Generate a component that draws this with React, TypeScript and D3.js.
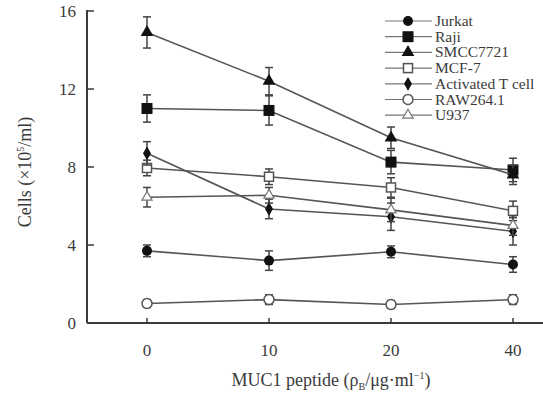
import React, { useEffect, useRef } from 'react';
import * as d3 from 'd3';

const doses = ['0', '10', '20', '40'];
const yTicks = [0, 4, 8, 12, 16];

const names = ['Jurkat', 'Raji', 'SMCC7721', 'MCF-7', 'Activated T cell', 'RAW264.1', 'U937'];
const markers = ['circle', 'square', 'triangle', 'openSquare', 'smallDot', 'openCircle', 'openTriangle'];

const jurkat = [3.7, 3.2, 3.65, 3.0];
const raji = [11.0, 10.9, 8.25, 7.85];
const smcc = [14.9, 12.4, 9.5, 7.6];
const mcf7 = [7.95, 7.5, 6.95, 5.75];
const activatedT = [8.7, 5.85, 5.45, 4.7];
const raw = [1.0, 1.2, 0.95, 1.2];
const u937 = [6.45, 6.55, 5.8, 5.0];

const jurkatErr = [0.3, 0.5, 0.3, 0.4];
const rajiErr = [0.7, 0.75, 0.6, 0.6];
const smccErr = [0.8, 0.7, 0.55, 0.5];
const mcf7Err = [0.4, 0.4, 0.5, 0.5];
const activatedTErr = [0.6, 0.5, 0.7, 0.7];
const rawErr = [0.2, 0.25, 0.2, 0.25];
const u937Err = [0.5, 0.4, 0.6, 0.5];

const values = [jurkat, raji, smcc, mcf7, activatedT, raw, u937];
const errors = [jurkatErr, rajiErr, smccErr, mcf7Err, activatedTErr, rawErr, u937Err];

const ink = '#3a3a3a';
const font = '"Liberation Serif", "DejaVu Serif", serif';

function drawMarker(g: any, kind: string, x: number, y: number) {
  if (kind === 'circle') {
    g.append('circle').attr('cx', x).attr('cy', y).attr('r', 5).attr('fill', '#111');
  } else if (kind === 'square') {
    g.append('rect').attr('x', x - 5.5).attr('y', y - 5.5).attr('width', 11).attr('height', 11).attr('fill', '#111');
  } else if (kind === 'triangle') {
    g.append('path').attr('d', d3.symbol(d3.symbolTriangle, 70)()).attr('transform', `translate(${x},${y})`).attr('fill', '#111');
  } else if (kind === 'openSquare') {
    g.append('rect').attr('x', x - 4.5).attr('y', y - 4.5).attr('width', 9).attr('height', 9)
      .attr('fill', '#fff').attr('stroke', '#555').attr('stroke-width', 1.5);
  } else if (kind === 'smallDot') {
    g.append('path').attr('d', d3.symbol(d3.symbolDiamond, 55)()).attr('transform', `translate(${x},${y})`).attr('fill', '#111');
  } else if (kind === 'openCircle') {
    g.append('circle').attr('cx', x).attr('cy', y).attr('r', 5)
      .attr('fill', '#fff').attr('stroke', '#555').attr('stroke-width', 1.5);
  } else {
    g.append('path').attr('d', d3.symbol(d3.symbolTriangle, 45)()).attr('transform', `translate(${x},${y})`)
      .attr('fill', '#fff').attr('stroke', '#777').attr('stroke-width', 1.2);
  }
}

const App = () => {
  const ref = useRef<SVGSVGElement>(null);

  useEffect(() => {
    const svg = d3.select(ref.current);
    svg.selectAll('*').remove();

    const x = d3.scalePoint().domain(doses).range([147, 513]);
    const y = d3.scaleLinear().domain([0, 16]).range([323, 11]);
    const x0 = 87;

    svg.append('rect').attr('width', 543).attr('height', 398).attr('fill', '#fff');

    // axes
    const axes = svg.append('g').attr('stroke', ink).attr('stroke-width', 2);
    axes.append('line').attr('x1', x0).attr('x2', x0).attr('y1', y(16) - 1).attr('y2', y(0));
    axes.append('line').attr('x1', x0).attr('x2', 543).attr('y1', y(0)).attr('y2', y(0));
    yTicks.forEach((t) => {
      axes.append('line').attr('x1', x0).attr('x2', x0 + 7).attr('y1', y(t)).attr('y2', y(t)).attr('stroke-width', 1.5);
    });
    doses.forEach((d) => {
      axes.append('line').attr('x1', x(d)!).attr('x2', x(d)!).attr('y1', y(0)).attr('y2', y(0) - 5).attr('stroke-width', 1.5);
    });

    svg.append('g').selectAll('text').data(yTicks).enter().append('text')
      .attr('x', 76).attr('y', (d) => y(d) + 5.5).attr('text-anchor', 'end')
      .attr('font-family', font).attr('font-size', 17).attr('fill', ink).text((d) => d);

    svg.append('g').selectAll('text').data(doses).enter().append('text')
      .attr('x', (d) => x(d)!).attr('y', 356).attr('text-anchor', 'middle')
      .attr('font-family', font).attr('font-size', 17).attr('fill', ink).text((d) => d);

    const xl = svg.append('text').attr('x', 331).attr('y', 386).attr('text-anchor', 'middle')
      .attr('font-family', font).attr('font-size', 18).attr('fill', ink);
    xl.append('tspan').text('MUC1 peptide (ρ');
    xl.append('tspan').attr('font-size', 10).attr('dy', 4).text('B');
    xl.append('tspan').attr('dy', -4).text('/μg·ml');
    xl.append('tspan').attr('font-size', 10).attr('dy', -7).text('−1');
    xl.append('tspan').attr('dy', 7).text(')');

    const yl = svg.append('text').attr('transform', 'translate(31,172) rotate(-90)').attr('text-anchor', 'middle')
      .attr('font-family', font).attr('font-size', 18).attr('fill', ink);
    yl.append('tspan').text('Cells (×10');
    yl.append('tspan').attr('font-size', 10).attr('dy', -7).text('5');
    yl.append('tspan').attr('dy', 7).text('/ml)');

    const line = d3.line<number>().x((_, i) => x(doses[i])!).y((d) => y(d));

    values.forEach((vals, s) => {
      const g = svg.append('g');
      g.append('path').attr('d', line(vals)).attr('fill', 'none').attr('stroke', '#555').attr('stroke-width', 1.6);
      vals.forEach((v, i) => {
        const cx = x(doses[i])!;
        const e = errors[s][i];
        g.append('line').attr('x1', cx).attr('x2', cx).attr('y1', y(v + e)).attr('y2', y(v - e)).attr('stroke', '#444').attr('stroke-width', 1.5);
        [v + e, v - e].forEach((w) => {
          g.append('line').attr('x1', cx - 4).attr('x2', cx + 4).attr('y1', y(w)).attr('y2', y(w)).attr('stroke', '#444').attr('stroke-width', 1.5);
        });
      });
      vals.forEach((v, i) => drawMarker(g, markers[s], x(doses[i])!, y(v)));
    });

    // legend
    const leg = svg.append('g');
    names.forEach((n, i) => {
      const ly = 21 + i * 15.7;
      leg.append('line').attr('x1', 385).attr('x2', 432).attr('y1', ly).attr('y2', ly).attr('stroke', '#777').attr('stroke-width', 1.2);
      drawMarker(leg, markers[i], 408, ly);
      leg.append('text').attr('x', 435).attr('y', ly + 5).attr('font-family', font).attr('font-size', 15.5)
        .attr('fill', ink).text(n);
    });
  }, []);

  return (
    <svg ref={ref} width={543} height={398} style={{ position: 'absolute', left: 0, top: 0, display: 'block' }} />
  );
};

export default App;
